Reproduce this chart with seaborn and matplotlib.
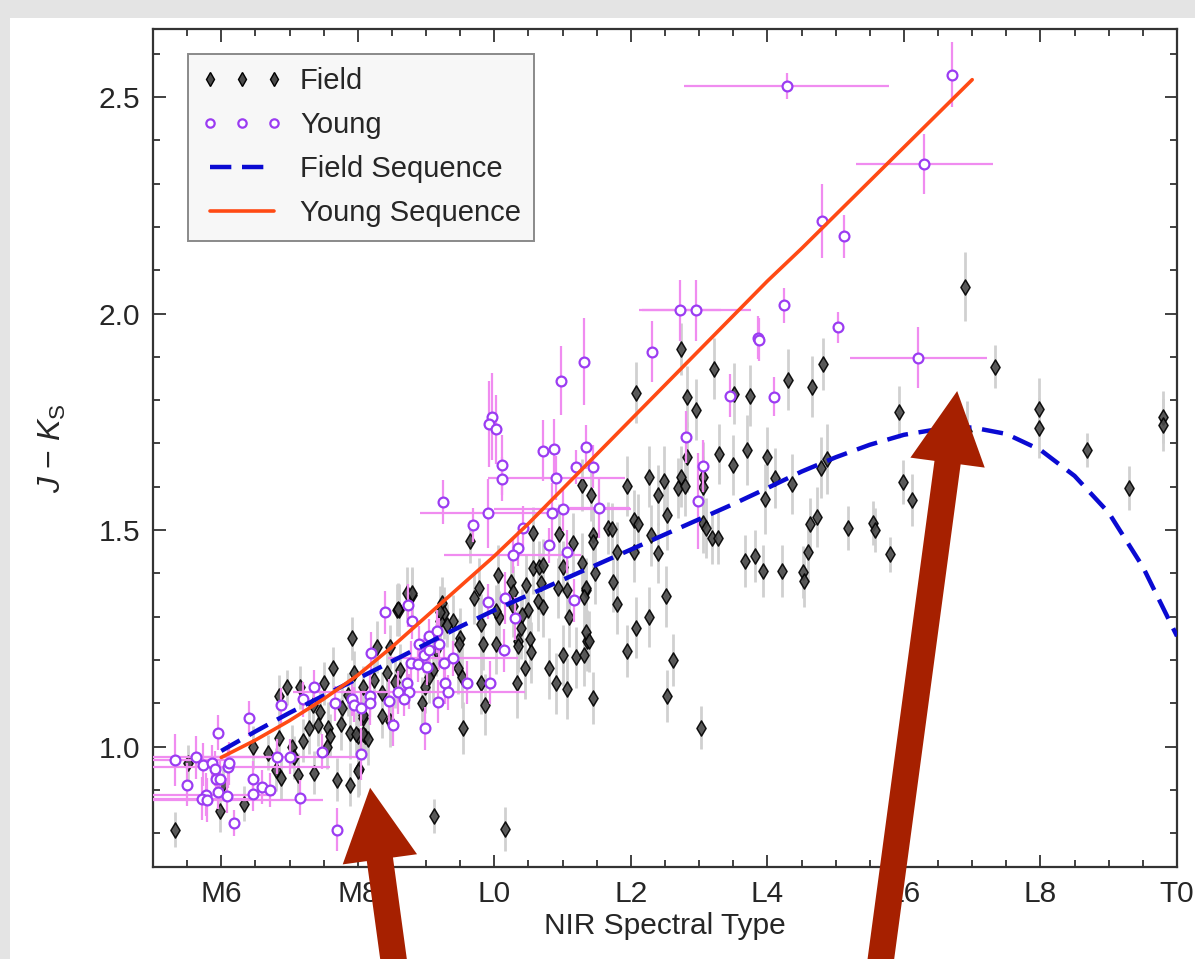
import matplotlib
matplotlib.use("Agg")
import matplotlib.pyplot as plt
import seaborn as sns
import pandas as pd
from matplotlib.lines import Line2D
from matplotlib.patches import Rectangle, FancyArrowPatch

# ---------------- data ----------------
field_spt = [
    5.32, 5.51, 5.98, 6.02, 6.33, 6.46, 6.68, 6.80, 6.85, 6.87,
    6.84, 6.97, 7.04, 7.07, 7.12, 7.16, 7.20, 7.29, 7.41, 7.36,
    7.50, 7.57, 7.60, 7.63, 7.70, 7.76, 7.55, 7.77, 7.89, 7.88,
    7.92, 7.95, 8.01, 8.02, 8.07, 8.11, 8.08, 8.28, 8.43, 8.61,
    8.57, 8.80, 8.62, 8.47, 8.23, 8.08, 8.08, 7.98, 8.01, 8.15,
    8.36, 8.94, 8.99, 9.15, 9.10, 9.23, 9.26, 9.20, 9.39, 9.52,
    9.50, 9.47, 9.70, 9.77, 9.80, 9.83, 9.81, 9.86, 9.54, 10.02,
    10.07, 10.02, 10.05, 10.24, 10.27, 10.27, 10.39, 10.34, 10.45, 10.33,
    10.46, 10.50, 10.52, 10.53, 10.56, 10.66, 10.72, 10.69, 10.64, 10.71,
    10.80, 10.91, 11.06, 10.93, 11.00, 11.06, 11.09, 11.00, 11.20, 11.32,
    11.35, 11.36, 9.12, 10.15, 12.08, 12.82, 12.96, 13.51, 13.74, 14.30,
    14.65, 13.29, 13.70, 14.00, 13.50, 14.11, 12.82, 12.26, 11.95, 12.49,
    12.40, 12.69, 12.74, 12.80, 13.06, 13.06, 11.29, 11.42, 12.53, 14.36,
    13.96, 11.67, 11.73, 12.05, 12.11, 11.45, 11.44, 12.30, 13.06, 13.10,
    13.19, 13.28, 11.79, 12.05, 12.40, 11.48, 11.29, 13.67, 13.82, 13.93,
    14.21, 14.52, 14.53, 14.59, 14.62, 14.72, 11.35, 11.32, 11.74, 11.79,
    12.52, 12.27, 12.07, 11.34, 11.39, 11.95, 12.61, 11.44, 12.53, 13.03,
    12.74, 13.22, 14.81, 15.93, 15.98, 16.12, 14.78, 14.87, 15.18, 15.55,
    15.58, 15.79, 10.56, 10.94, 11.15, 17.34, 17.98, 17.98, 16.93, 16.90,
    18.68, 19.29, 19.79, 19.79, 9.65, 8.72, 8.79, 8.59, 8.47, 9.20,
    9.48, 9.30, 10.35, 10.40, 7.35, 7.45, 7.85, 8.35, 8.55, 9.05,
]
field_jk = [
    0.808, 0.963, 0.852, 0.914, 0.868, 0.998, 0.986, 0.947, 1.021, 0.928,
    1.116, 1.137, 1.000, 0.975, 0.935, 1.137, 1.014, 1.042, 1.051, 0.940,
    1.146, 1.042, 1.025, 1.181, 0.924, 1.053, 0.998, 1.090, 0.912, 1.032,
    1.250, 1.171, 1.025, 0.949, 1.067, 1.025, 1.137, 1.229, 1.169, 1.315,
    1.315, 1.350, 1.178, 1.060, 1.153, 1.072, 1.030, 1.030, 0.944, 1.018,
    1.123, 1.100, 1.137, 1.222, 1.176, 1.331, 1.308, 1.289, 1.289, 1.160,
    1.250, 1.181, 1.343, 1.366, 1.282, 1.236, 1.146, 1.097, 1.044, 1.238,
    1.299, 1.313, 1.396, 1.380, 1.356, 1.324, 1.273, 1.245, 1.181, 1.146,
    1.373, 1.315, 1.248, 1.218, 1.412, 1.414, 1.419, 1.377, 1.336, 1.322,
    1.181, 1.146, 1.134, 1.366, 1.414, 1.361, 1.299, 1.211, 1.206, 1.211,
    1.361, 1.245, 0.840, 0.810, 1.817, 1.808, 1.778, 1.815, 1.810, 1.847,
    1.831, 1.676, 1.685, 1.669, 1.650, 1.620, 1.669, 1.623, 1.602, 1.613,
    1.581, 1.597, 1.623, 1.602, 1.623, 1.600, 1.604, 1.581, 1.535, 1.606,
    1.572, 1.505, 1.502, 1.523, 1.514, 1.488, 1.472, 1.488, 1.516, 1.505,
    1.481, 1.481, 1.449, 1.449, 1.447, 1.400, 1.424, 1.428, 1.440, 1.405,
    1.405, 1.403, 1.382, 1.449, 1.514, 1.530, 1.366, 1.345, 1.380, 1.329,
    1.347, 1.299, 1.275, 1.264, 1.243, 1.220, 1.199, 1.113, 1.116, 1.044,
    1.919, 1.873, 1.884, 1.772, 1.611, 1.569, 1.644, 1.664, 1.505, 1.516,
    1.500, 1.444, 1.493, 1.490, 1.470, 1.877, 1.780, 1.736, 1.729, 2.062,
    1.685, 1.597, 1.762, 1.743, 1.474, 1.355, 1.355, 1.318, 1.230, 1.310,
    1.237, 1.280, 1.232, 1.305, 1.095, 1.080, 1.120, 1.070, 1.150, 1.160,
]
field_err = [
    .04, .04, .05, .04, .04, .05, .04, .05, .04, .05,
    .05, .04, .05, .05, .05, .05, .05, .06, .05, .05,
    .05, .06, .05, .05, .05, .06, .05, .05, .05, .06,
    .05, .05, .06, .06, .05, .05, .05, .06, .06, .06,
    .06, .06, .06, .06, .05, .06, .06, .05, .06, .06,
    .05, .06, .06, .06, .07, .06, .06, .05, .06, .07,
    .07, .06, .06, .07, .07, .06, .07, .07, .06, .07,
    .06, .06, .07, .06, .06, .07, .07, .07, .07, .08,
    .07, .07, .07, .07, .06, .06, .06, .07, .07, .07,
    .07, .07, .07, .07, .06, .07, .07, .07, .07, .07,
    .07, .07, .04, .05, .07, .07, .07, .07, .07, .07,
    .07, .07, .08, .07, .07, .07, .08, .07, .07, .08,
    .07, .07, .07, .07, .08, .07, .06, .06, .08, .07,
    .08, .06, .06, .07, .07, .06, .06, .07, .07, .07,
    .06, .06, .07, .07, .07, .07, .07, .06, .06, .06,
    .06, .06, .06, .07, .06, .07, .07, .07, .07, .07,
    .07, .07, .07, .07, .07, .06, .06, .06, .06, .05,
    .06, .07, .06, .06, .05, .06, .07, .08, .05, .05,
    .05, .04, .06, .07, .07, .05, .07, .07, .07, .08,
    .04, .05, .06, .06, .05, .06, .06, .06, .05, .06,
    .06, .05, .06, .06, .05, .05, .05, .05, .06, .06,
]

young_spt = [
    14.28, 16.71, 16.30, 16.21, 14.80, 15.12, 15.03, 14.24, 13.86, 13.88,
    14.10, 13.45, 12.81, 13.06, 12.99, 11.34, 11.44, 11.53, 12.72, 12.96,
    12.31, 11.32, 10.97, 10.72, 10.87, 11.20, 10.91, 11.00, 10.84, 10.42,
    10.11, 10.11, 10.34, 10.80, 9.96, 9.92, 10.02, 9.25, 9.91, 9.69,
    11.07, 10.27, 9.91, 10.15, 10.31, 11.17, 10.14, 8.40, 8.74, 8.80,
    8.20, 9.04, 9.16, 8.90, 9.19, 8.97, 9.04, 8.78, 8.88, 9.01,
    9.26, 9.39, 9.28, 9.60, 9.93, 8.72, 8.59, 8.75, 8.68, 9.32,
    9.18, 8.46, 8.18, 8.18, 8.52, 8.99, 8.05, 7.92, 7.95, 8.04,
    5.32, 5.50, 5.63, 5.73, 5.86, 5.91, 5.95, 5.92, 5.98, 5.95,
    5.77, 5.72, 5.79, 6.08, 6.10, 6.12, 6.19, 6.40, 6.46, 6.47,
    6.59, 6.72, 6.81, 6.88, 7.00, 7.15, 7.19, 7.36, 7.47, 7.66,
    7.70,
]
young_jk = [
    2.525, 2.551, 2.345, 1.898, 2.213, 2.178, 1.968, 2.019, 1.944, 1.940,
    1.808, 1.810, 1.715, 1.648, 1.567, 1.692, 1.646, 1.551, 2.007, 2.007,
    1.912, 1.889, 1.845, 1.683, 1.687, 1.646, 1.620, 1.549, 1.539, 1.505,
    1.650, 1.618, 1.458, 1.465, 1.762, 1.745, 1.733, 1.565, 1.539, 1.512,
    1.450, 1.442, 1.335, 1.343, 1.296, 1.338, 1.222, 1.310, 1.326, 1.289,
    1.215, 1.255, 1.266, 1.238, 1.238, 1.211, 1.224, 1.194, 1.190, 1.183,
    1.194, 1.204, 1.148, 1.148, 1.148, 1.146, 1.125, 1.127, 1.111, 1.125,
    1.104, 1.106, 1.118, 1.101, 1.051, 1.042, 0.984, 1.111, 1.097, 1.088,
    0.968, 0.912, 0.975, 0.958, 0.963, 0.949, 1.032, 0.926, 0.926, 0.896,
    0.889, 0.880, 0.877, 0.887, 0.954, 0.961, 0.824, 1.065, 0.926, 0.891,
    0.907, 0.900, 0.977, 1.095, 0.977, 0.882, 1.109, 1.137, 0.988, 1.100,
    0.808,
]
young_xerr = [
    1.5, 0, 1.0, 1.0, 0, 0, 0, 0, 0, 0,
    0, 0, 0, 0, 0, 0, 0, 0.45, 0.6, 0.8,
    0, 0, 0, 0, 0, 0, 1.0, 1.0, 0, 0,
    0, 0, 0, 0, 0, 0, 0, 0, 1.0, 0,
    0, 1.0, 0, 0, 0, 0, 0, 0, 0, 0,
    0, 0, 0, 0, 0, 0, 0, 0, 0, 0,
    0, 0.95, 0, 0, 0, 0, 0, 1.7, 0, 0,
    0, 0, 0, 0, 0, 0, 0, 0, 0, 0,
    0.75, 0, 1.1, 0, 0, 0, 0, 0, 0, 0,
    1.0, 0.8, 1.7, 0, 1.5, 0, 0, 0, 0, 0,
    0, 0, 1.3, 0, 0, 0, 0, 0, 0, 0,
    0,
]
young_yerr = [
    .03, .075, .07, .07, .085, .05, .035, .04, .05, .05,
    .045, .05, .06, .06, .11, .05, .05, .07, .07, .07,
    .07, .10, .08, .07, .07, .04, .05, .05, .07, .05,
    .07, .05, .04, .04, .10, .10, .08, .05, .08, .04,
    .05, .04, .04, .06, .05, .05, .05, .05, .05, .04,
    .05, .04, .05, .04, .06, .04, .04, .05, .04, .04,
    .04, .04, .05, .05, .05, .05, .05, .04, .04, .04,
    .05, .05, .05, .05, .05, .05, .06, .04, .04, .04,
    .06, .05, .05, .05, .04, .04, .04, .04, .04, .04,
    .05, .05, .05, .04, .05, .05, .03, .04, .04, .04,
    .04, .04, .04, .04, .04, .04, .04, .04, .04, .04,
    .05,
]

fseq_spt = [6.0, 6.5, 7.0, 7.5, 8.0, 8.5, 9.0, 9.5, 10.0, 10.5, 11.0, 11.5,
            12.0, 12.5, 13.0, 13.5, 14.0, 14.5, 15.0, 15.5, 16.0, 16.5, 17.0,
            17.5, 18.0, 18.5, 19.0, 19.5, 20.0]
fseq_jk = [0.990, 1.035, 1.078, 1.118, 1.157, 1.197, 1.237, 1.277, 1.315, 1.350,
           1.385, 1.420, 1.455, 1.490, 1.525, 1.560, 1.597, 1.635, 1.668, 1.697,
           1.720, 1.733, 1.737, 1.722, 1.685, 1.625, 1.540, 1.415, 1.255]

yseq_spt = [6.0, 6.5, 7.0, 7.5, 8.0, 8.5, 9.0, 9.5, 10.0, 10.5, 11.0, 11.5,
            12.0, 12.5, 13.0, 13.5, 14.0, 14.5, 15.0, 15.5, 16.0, 16.5, 17.0]
yseq_jk = [0.975, 1.015, 1.060, 1.110, 1.165, 1.230, 1.300, 1.370, 1.440, 1.515,
           1.595, 1.675, 1.755, 1.835, 1.915, 1.995, 2.075, 2.150, 2.228, 2.306,
           2.384, 2.462, 2.540]

tick_pos = [6, 8, 10, 12, 14, 16, 18, 20]
tick_labels = ["M6", "M8", "L0", "L2", "L4", "L6", "L8", "T0"]
legend_labels = ["Field", "Young", "Field Sequence", "Young Sequence"]

# ---------------- styling ----------------
sns.set_theme(style="ticks")
plt.rcParams["font.family"] = ["Liberation Sans", "DejaVu Sans"]
plt.rcParams["mathtext.fontset"] = "custom"
plt.rcParams["mathtext.it"] = "Liberation Sans:italic"
plt.rcParams["mathtext.rm"] = "Liberation Sans"

C_YOUNG = "#9b3cf2"
C_YERR = "#f08cf0"
C_FSEQ = "#0a0ad2"
C_YSEQ = "#ff4a14"
C_ARROW = "#a62000"

fig = plt.figure(figsize=(11.95, 9.59), dpi=100)
fig.patch.set_facecolor("#e4e4e4")
fig.patches.append(Rectangle((10 / 1195, 0), 1.0, (959 - 18) / 959,
                             transform=fig.transFigure, facecolor="white",
                             edgecolor="none", zorder=-10))
ax = fig.add_axes([153 / 1195, 1 - 867 / 959, 1024 / 1195, 838 / 959])
ax.set_facecolor("white")

field_df = pd.DataFrame({"spt": field_spt, "jk": field_jk})
young_df = pd.DataFrame({"spt": young_spt, "jk": young_jk})

ax.errorbar(field_spt, field_jk, yerr=field_err, fmt="none",
            ecolor="#d0d0d0", elinewidth=2.0, capsize=0, zorder=1)
sns.scatterplot(data=field_df, x="spt", y="jk", marker="d", s=60,
                color="#4a4a4a", edgecolor="black", linewidth=1.1,
                alpha=0.9, zorder=2, ax=ax, legend=False)
ax.errorbar(young_spt, young_jk, xerr=young_xerr, yerr=young_yerr, fmt="none",
            ecolor=C_YERR, elinewidth=1.6, capsize=0, zorder=3)
sns.scatterplot(data=young_df, x="spt", y="jk", marker="o", s=50,
                facecolor="white", edgecolor=C_YOUNG, linewidth=1.6,
                zorder=4, ax=ax, legend=False)

sns.lineplot(x=fseq_spt, y=fseq_jk, color=C_FSEQ, lw=3.2, ax=ax, zorder=5)
ax.lines[-1].set_dashes((4.8, 2.4))
sns.lineplot(x=yseq_spt, y=yseq_jk, color=C_YSEQ, lw=2.6, ax=ax, zorder=6)

# axes
ax.set_xlim(5, 20)
ax.set_ylim(0.722, 2.657)
ax.set_xticks(tick_pos)
ax.set_xticklabels(tick_labels)
ax.set_xticks([5 + 0.5 * i for i in range(31)], minor=True)
ax.set_yticks([1.0, 1.5, 2.0, 2.5])
ax.set_yticklabels(["1.0", "1.5", "2.0", "2.5"])
ax.set_yticks([0.8 + 0.1 * i for i in range(19)], minor=True)
ax.tick_params(which="both", direction="in", top=True, right=True,
               color="#333333", width=1.3)
ax.tick_params(which="major", length=9, labelsize=21.5, pad=9)
ax.tick_params(which="minor", length=5)
for sp in ax.spines.values():
    sp.set_linewidth(1.6)
    sp.set_color("#333333")
ax.set_xlabel("NIR Spectral Type", fontsize=21.5, labelpad=3)
ax.set_ylabel(r"$J$ $-$ $K_{\mathrm{S}}$", fontsize=23, labelpad=22)

handles = [
    Line2D([], [], marker="d", ls="none", color="#4a4a4a", mec="black",
           mew=1.0, markersize=7),
    Line2D([], [], marker="o", ls="none", mfc="white", mec=C_YOUNG,
           mew=1.6, markersize=6),
    Line2D([], [], color=C_FSEQ, lw=3.2, dashes=(4.8, 2.4)),
    Line2D([], [], color=C_YSEQ, lw=2.6),
]
leg = ax.legend(handles, legend_labels, loc="upper left",
                bbox_to_anchor=(0.034, 0.970), borderaxespad=0,
                fontsize=21, numpoints=3, handlelength=2.8,
                handletextpad=0.6, labelspacing=0.55, borderpad=0.45,
                fancybox=False, framealpha=1, edgecolor="#8a8a8a",
                facecolor="#f7f7f7")
leg.get_frame().set_linewidth(1.4)
leg.set_zorder(10)

# annotation arrows (overlay)
for tip, tail in [((8.18, 0.905), (8.54, 0.49)), ((16.78, 1.821), (15.62, 0.46))]:
    arr = FancyArrowPatch(posA=tail, posB=tip, transform=ax.transData,
                          arrowstyle="simple,head_length=52,head_width=54,tail_width=19",
                          mutation_scale=1, color=C_ARROW, lw=0,
                          shrinkA=0, shrinkB=0, clip_on=False, zorder=20)
    ax.add_patch(arr)

fig.savefig("out.png", dpi=100, facecolor=fig.get_facecolor())
